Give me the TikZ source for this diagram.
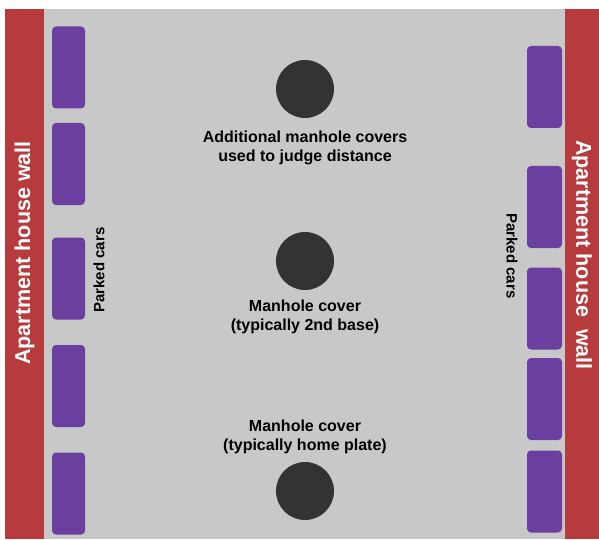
\documentclass[tikz,border=0pt]{standalone}
\usepackage{fontspec}
\setmainfont{Liberation Sans}
\usepackage{tikz}
\usetikzlibrary{positioning}
\definecolor{road}{HTML}{C8C8C8}
\definecolor{wallred}{HTML}{B73B3C}
\definecolor{carpurple}{HTML}{6B3FA0}
\definecolor{coverdark}{HTML}{333333}

\begin{document}
\begin{tikzpicture}[x=1pt,y=1pt,
  font=\bfseries,
  wall/.style={fill=wallred,draw=none,inner sep=0pt,minimum width=39pt,minimum height=530pt},
  walltext/.style={text=white,font=\bfseries\fontsize{21.5}{24}\selectfont,inner sep=0pt},
  car/.style={fill=carpurple,rounded corners=4pt,inner sep=0pt,minimum width=33pt,minimum height=82pt},
  cover/.style={circle,fill=coverdark,inner sep=0pt,minimum size=58pt},
  lbl/.style={align=center,inner sep=0pt,font=\bfseries\fontsize{16}{19}\selectfont},
  cars/.style={inner sep=0pt,font=\bfseries\fontsize{15}{16}\selectfont}]
\useasboundingbox (0,0) rectangle (599,539);
\fill[white] (0,0) rectangle (599,539);
\fill[road] (44,0) rectangle (565,530);
% walls
\node[wall] (lwall) at (24.5,265) {};
\node[wall,minimum width=34pt] (rwall) at (582,265) {};
\node[walltext,rotate=90] (lwalltext) at (24.5,286) {Apartment house wall};
\node[walltext,rotate=-90] (rwalltext) at (582,284) {Apartment house\ \ wall};
% parked cars, left side
\node[car] (l1) at (68.5,471.5) {};
\node[car] (l2) at (68.5,375) {};
\node[car] (l3) at (68.5,260.5) {};
\node[car] (l4) at (68.5,153) {};
\node[car] (l5) at (68.5,45.5) {};
\node[cars,rotate=90] (lcars) at (99,269) {Parked cars};
% parked cars, right side
\node[car,minimum width=35pt] (r1) at (544.5,452) {};
\node[car,minimum width=35pt] (r2) at (544.5,332) {};
\node[car,minimum width=35pt] (r3) at (544.5,230.5) {};
\node[car,minimum width=35pt] (r4) at (544.5,140) {};
\node[car,minimum width=35pt] (r5) at (544.5,47.5) {};
\node[cars,rotate=-90] (rcars) at (512,283) {Parked cars};
% manhole covers
\node[cover] (extra) at (305,450) {};
\node[cover] (second) at (305,278) {};
\node[cover] (home) at (305,48) {};
\node[lbl] (extralbl) at (305,391.5) {Additional manhole covers\\used to judge distance};
\node[lbl] (secondlbl) at (305,222) {Manhole cover\\(typically 2nd base)};
\node[lbl] (homelbl) at (305,102.5) {Manhole cover\\(typically home plate)};
\end{tikzpicture}
\end{document}
